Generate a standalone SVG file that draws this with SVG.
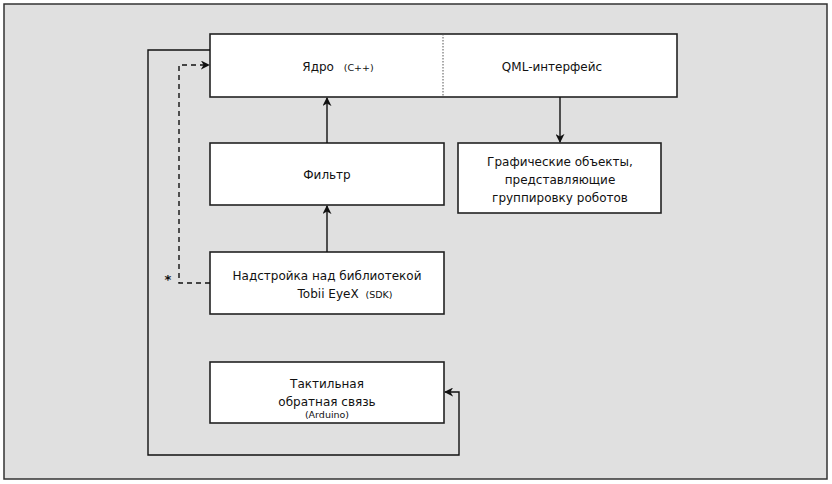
<svg xmlns="http://www.w3.org/2000/svg" width="832" height="484" viewBox="0 0 832 484">
<defs>
<style>
.box{fill:#fff;stroke:#222;stroke-width:1.6}
.t{font-family:"DejaVu Sans","Noto Sans",sans-serif;font-size:12px;fill:#111;text-anchor:middle}
.s{font-family:"DejaVu Sans","Noto Sans",sans-serif;font-size:9.5px;fill:#111}
.ln{fill:none;stroke:#111;stroke-width:1.4}
.dash{fill:none;stroke:#111;stroke-width:1.4;stroke-dasharray:5,4}
</style>
<marker id="ah" viewBox="0 0 10 10" refX="9" refY="5" markerWidth="9" markerHeight="9" markerUnits="userSpaceOnUse" orient="auto">
<path d="M0,0 L10,5 L0,10 L3,5 Z" fill="#111"/>
</marker>
</defs>
<rect x="4" y="4" width="823" height="475" fill="#e0e0e0" stroke="#333" stroke-width="1.5"/>
<g id="core">
<rect class="box" x="210" y="34" width="467" height="63"/>
<line x1="443" y1="34" x2="443" y2="97" stroke="#555" stroke-width="1" stroke-dasharray="1.5,1.5"/>
<text class="t" x="338" y="71">Ядро <tspan class="s" dx="6">(C++)</tspan></text>
<text class="t" x="552" y="71">QML-интерфейс</text>
</g>
<g id="graphics">
<rect class="box" x="458" y="143" width="203" height="70"/>
<text class="t" x="560" y="166">Графические объекты,</text>
<text class="t" x="560" y="184">представляющие</text>
<text class="t" x="560" y="202">группировку роботов</text>
</g>
<g id="filter">
<rect class="box" x="210" y="143" width="234" height="62"/>
<text class="t" x="327" y="179">Фильтр</text>
</g>
<g id="sdk">
<rect class="box" x="210" y="252" width="234" height="62"/>
<text class="t" x="327" y="280">Надстройка над библиотекой</text>
<text class="t" x="345" y="298">Tobii EyeX <tspan class="s" dx="3">(SDK)</tspan></text>
</g>
<g id="tactile">
<rect class="box" x="210" y="362" width="234" height="61"/>
<text class="t" x="327" y="388">Тактильная</text>
<text class="t" x="327" y="406">обратная связь</text>
<text class="s" x="327" y="418" text-anchor="middle">(Arduino)</text>
</g>
<g id="connectors">
<line class="ln" x1="560" y1="97" x2="560" y2="142" marker-end="url(#ah)"/>
<line class="ln" x1="327" y1="143" x2="327" y2="98" marker-end="url(#ah)"/>
<line class="ln" x1="327" y1="252" x2="327" y2="206" marker-end="url(#ah)"/>
<polyline class="dash" points="210,283 179,283 179,65 209,65" marker-end="url(#ah)"/>
<polyline class="ln" points="210,50 148,50 148,455 459,455 459,392 445,392" marker-end="url(#ah)"/>
<text x="168" y="284" font-family="DejaVu Sans,sans-serif" font-size="13" font-weight="bold" fill="#111" text-anchor="middle">*</text>
</g>
</svg>
